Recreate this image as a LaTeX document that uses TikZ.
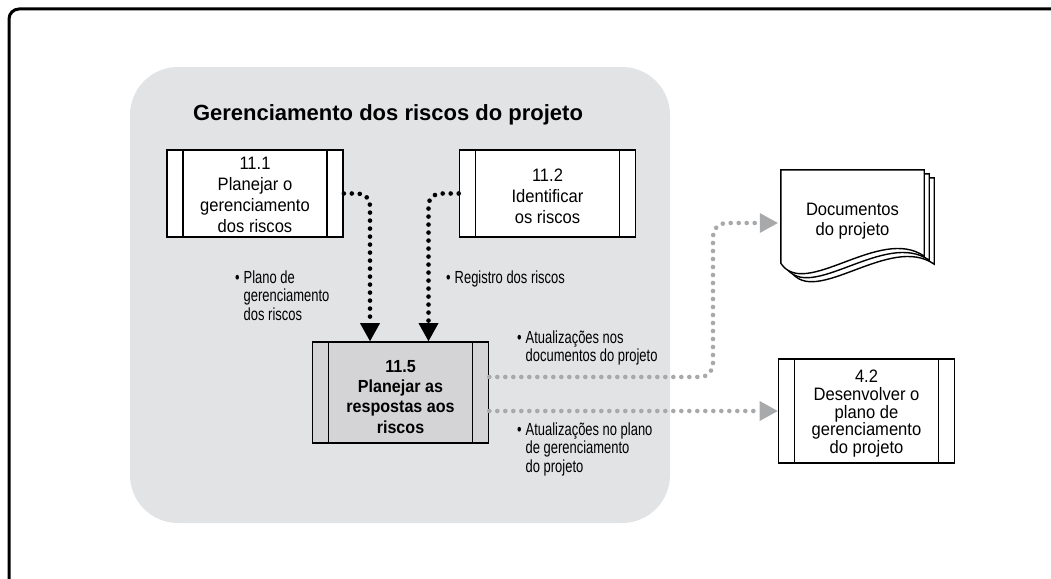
\documentclass[tikz,border=0pt]{standalone}
\usepackage{fontspec}
\setmainfont{Liberation Sans}
\newfontfamily\boxfont[FakeStretch=0.92]{Liberation Sans}
\newfontfamily\condfont[FakeStretch=0.74]{Liberation Sans}
\usetikzlibrary{arrows.meta, positioning, calc, backgrounds}
\definecolor{fundoregiao}{RGB}{226,227,229}
\definecolor{fundoproc}{RGB}{212,212,214}
\definecolor{cinzaseta}{RGB}{168,169,171}
\newcommand{\marcador}[1]{\textbullet\hspace{4pt}\begin{tabular}[t]{@{}l@{}}#1\end{tabular}}

\begin{document}
\begin{tikzpicture}[x=1pt, y=-1pt,
	moldura/.style={draw, line width=3pt, rounded corners=10pt},
	regiao/.style={fill=fundoregiao, rounded corners=48pt, minimum width=540pt, minimum height=456pt, inner sep=0pt},
	titulo/.style={font=\bfseries\fontsize{22}{24}\selectfont, inner sep=0pt},
	barras/.style={path picture={
		\draw[line width=1.3pt] ([xshift=16pt]path picture bounding box.north west) -- ([xshift=16pt]path picture bounding box.south west)
			([xshift=-16pt]path picture bounding box.north east) -- ([xshift=-16pt]path picture bounding box.south east);}},
	processo/.style={draw, line width=1.6pt, fill=white, minimum width=176pt, minimum height=87pt, inner sep=0pt, align=center, font=\boxfont\fontsize{18}{21}\selectfont, barras},
	principal/.style={processo, fill=fundoproc, minimum height=101pt, font=\boxfont\bfseries\fontsize{17.5}{20.3}\selectfont},
	documento/.style={minimum width=143pt, minimum height=93pt, inner sep=0pt, align=center, font=\boxfont\fontsize{18}{20}\selectfont},
	rotulo/.style={font=\condfont\fontsize{17.5}{18.5}\selectfont, inner sep=0pt, anchor=base west},
	setapreta/.style={line width=4.6pt, line cap=round, dash pattern=on 0pt off 8pt, rounded corners=12pt, -{Triangle[width=20pt, length=18pt, line width=0pt]}},
	setacinza/.style={setapreta, cinzaseta, rounded corners=13pt}
	]
	
	\useasboundingbox (0,0) rectangle (1051,578);
	\draw[moldura] (9,584) -- (9,9) -- (1060,9);
	
	% area do gerenciamento dos riscos
	\node[regiao] (regiao) at (400,295) {};
	\node[titulo] (titulo) at (388,115) {Gerenciamento dos riscos do projeto};
	
	% text height um pouco maior para baixar o texto
	\node[processo, text height=79pt] (p111) at (255,193.5) {11.1\\Planejar o\\gerenciamento\\dos riscos};
	\node[processo, text height=60pt] (p112) at (547.5,193.5) {11.2\\Identificar\\os riscos};
	\node[principal, text height=81.5pt] (p115) at (400.5,392.5) {11.5\\Planejar as\\respostas aos\\riscos};
	
	% saidas
	\node[documento, text height=41pt] (docs) at (852.5,216.5) {Documentos\\do projeto};
	\node[processo, minimum height=104pt, text height=89pt, font=\boxfont\fontsize{18}{17.8}\selectfont] (p42) at (866.5,411) {4.2\\Desenvolver o\\plano de\\gerenciamento\\do projeto};
	
	\begin{scope}[on background layer]
		\foreach \k in {2,1,0}
			\draw[line width=1.4pt, fill=white] ([shift={(5*\k,4*\k)}]docs.north west) -- ([shift={(5*\k,4*\k)}]docs.north east)
				-- ([shift={(5*\k,4*\k-7)}]docs.south east)
				.. controls +(-44,-31) and +(24,37) .. ([shift={(5*\k,4*\k)}]docs.south west) -- cycle;
	\end{scope}
	
	\node[rotulo] (lplano) at (235,283) {\marcador{Plano de\\gerenciamento\\dos riscos}};
	\node[rotulo] (lregistro) at (446,283) {\marcador{Registro dos riscos}};
	\node[rotulo] (latdoc) at (517,343) {\marcador{Atualizações nos\\documentos do projeto}};
	\node[rotulo] (latplano) at (517,435) {\marcador{Atualizações no plano\\de gerenciamento\\do projeto}};
	
	% setas
	\coordinate (dobra) at (713,300);
	\draw[setapreta] (p111.east) -| ([xshift=-30.5pt]p115.north);
	\draw[setapreta] (p112.west) -| ([xshift=28pt]p115.north);
	\draw[setacinza] ([yshift=15.5pt]p115.east) -| (dobra) |- ([xshift=-3pt, yshift=-6.5pt]docs.west);
	\draw[setacinza] (p115.east |- p42.west) -- (p42.west);
	
\end{tikzpicture}
\end{document}
